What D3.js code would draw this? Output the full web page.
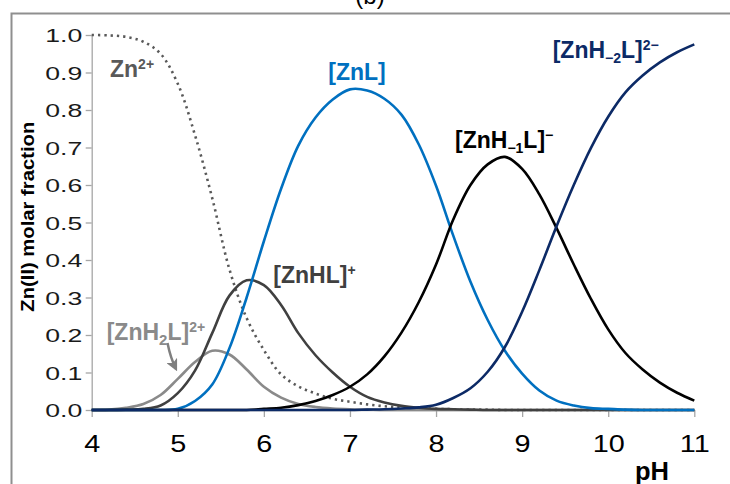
<!DOCTYPE html>
<html>
<head>
<meta charset="utf-8">
<script src="https://cdn.jsdelivr.net/npm/d3@7"></script>
<style>
  html, body { margin: 0; padding: 0; background: #fff; }
  svg { display: block; font-family: "Liberation Sans", Arial, sans-serif; }
</style>
</head>
<body>
<svg id="chart" width="730" height="484"></svg>
<script>
// pH grid of the speciation diagram
const pH = [4.0, 4.2, 4.4, 4.6, 4.8, 5.0, 5.2, 5.4, 5.6, 5.8, 6.0, 6.2, 6.4, 6.6, 6.8, 7.0, 7.2, 7.4,
            7.6, 7.8, 8.0, 8.2, 8.4, 8.6, 8.8, 9.0, 9.2, 9.4, 9.6, 9.8, 10.0, 10.2, 10.4, 10.6, 10.8, 11.0];

// Zn(II) molar fraction of each species
const zn     = [1.000, 0.999, 0.995, 0.982, 0.950, 0.870, 0.733, 0.565, 0.375, 0.245, 0.160, 0.095, 0.063, 0.044, 0.030, 0.022, 0.015, 0.010,
                0.007, 0.005, 0.003, 0.002, 0.001, 0.001, 0, 0, 0, 0, 0, 0, 0, 0, 0, 0, 0, 0];
const znH2L  = [0.000, 0.001, 0.006, 0.016, 0.040, 0.083, 0.128, 0.158, 0.148, 0.108, 0.062, 0.033, 0.016, 0.008, 0.004, 0.002, 0.001, 0,
                0, 0, 0, 0, 0, 0, 0, 0, 0, 0, 0, 0, 0, 0, 0, 0, 0, 0];
const znHL   = [0, 0, 0.001, 0.003, 0.012, 0.045, 0.105, 0.205, 0.305, 0.346, 0.333, 0.280, 0.205, 0.146, 0.100, 0.062, 0.035, 0.020,
                0.011, 0.006, 0.003, 0.002, 0.001, 0, 0, 0, 0, 0, 0, 0, 0, 0, 0, 0, 0, 0];
const znL    = [0, 0, 0, 0, 0, 0.003, 0.024, 0.068, 0.165, 0.300, 0.450, 0.590, 0.705, 0.780, 0.828, 0.855, 0.852, 0.830,
                0.787, 0.708, 0.598, 0.465, 0.342, 0.240, 0.158, 0.097, 0.052, 0.025, 0.012, 0.005, 0.003, 0.001, 0, 0, 0, 0];
const znHm1L = [0, 0, 0, 0, 0, 0, 0, 0, 0, 0, 0.003, 0.006, 0.013, 0.024, 0.040, 0.062, 0.095, 0.143,
                0.207, 0.288, 0.388, 0.508, 0.600, 0.655, 0.675, 0.643, 0.575, 0.485, 0.388, 0.296, 0.215, 0.152, 0.108, 0.073, 0.046, 0.025];
const znHm2L = [0, 0, 0, 0, 0, 0, 0, 0, 0, 0, 0, 0, 0, 0, 0, 0, 0.001, 0.002,
                0.004, 0.007, 0.014, 0.032, 0.058, 0.102, 0.168, 0.262, 0.373, 0.490, 0.600, 0.699, 0.782, 0.847, 0.892, 0.927, 0.954, 0.975];

const xTicks = [4, 5, 6, 7, 8, 9, 10, 11];
const yTicks = [0, 0.1, 0.2, 0.3, 0.4, 0.5, 0.6, 0.7, 0.8, 0.9, 1.0];

const svg = d3.select("#chart");
const x = d3.scaleLinear().domain([4, 11]).range([91.7, 694.3]);
const y = d3.scaleLinear().domain([0, 1]).range([410, 35]);

// panel frame
svg.append("path")
  .attr("d", "M11.5,484V13.5H730")
  .attr("fill", "none").attr("stroke", "#8f8f8f").attr("stroke-width", 2);

// panel letter (cut by the top edge)
svg.append("text").attr("x", 370).attr("y", 4).attr("text-anchor", "middle")
  .attr("font-size", 24).attr("fill", "#000").text("(b)");

// widen tick labels horizontally
function stretch(sel, k) {
  sel.each(function () {
    const w = this.getComputedTextLength();
    d3.select(this).attr("textLength", w * k).attr("lengthAdjust", "spacingAndGlyphs");
  });
}

// y axis
const gy = svg.append("g").attr("transform", `translate(${x(4)},0)`)
  .call(d3.axisLeft(y).tickValues(yTicks).tickFormat(d3.format(".1f")).tickSize(6).tickSizeOuter(0));
gy.attr("font-family", null).attr("font-size", null);
gy.select(".domain").attr("stroke", "#a6a6a6").attr("stroke-width", 1.3);
gy.selectAll(".tick line").attr("stroke", "#a6a6a6").attr("stroke-width", 1.3);
gy.selectAll(".tick text").attr("font-size", 19).attr("fill", "#1a1a1a").attr("x", -9.5).attr("dy", "0.36em");
stretch(gy.selectAll(".tick text"), 1.4);

// x axis
const gx = svg.append("g").attr("transform", `translate(0,${y(0)})`)
  .call(d3.axisBottom(x).tickValues(xTicks).tickFormat(d3.format("d")).tickSize(7).tickSizeOuter(0));
gx.attr("font-family", null).attr("font-size", null);
gx.select(".domain").attr("stroke", "#a6a6a6").attr("stroke-width", 1.3);
gx.selectAll(".tick line").attr("stroke", "#a6a6a6").attr("stroke-width", 1.3);
gx.selectAll(".tick text").attr("font-size", 24).attr("fill", "#000").attr("y", 25).attr("dy", "0.71em");
stretch(gx.selectAll(".tick text"), 1.2);

// axis titles
svg.append("text")
  .attr("transform", "translate(34,216.7) rotate(-90)")
  .attr("text-anchor", "middle").attr("font-weight", "bold").attr("font-size", 17.5)
  .attr("textLength", 190).attr("lengthAdjust", "spacingAndGlyphs")
  .attr("fill", "#000").text("Zn(II) molar fraction");
svg.append("text").attr("x", 635).attr("y", 480).attr("font-weight", "bold")
  .attr("font-size", 25.5).attr("fill", "#000").text("pH");

// species curves
const series = [
  { values: zn,     color: "#595959", dash: "2.3 4" },
  { values: znH2L,  color: "#8a8a8a" },
  { values: znHL,   color: "#404040" },
  { values: znL,    color: "#0070c0" },
  { values: znHm1L, color: "#000000" },
  { values: znHm2L, color: "#0c2a66" }
];
const line = d3.line()
  .x((d, i) => x(pH[i]))
  .y(d => y(d))
  .curve(d3.curveCatmullRom.alpha(0.5));

svg.append("g").selectAll("path").data(series).join("path")
  .attr("d", s => line(s.values))
  .attr("fill", "none")
  .attr("stroke", s => s.color)
  .attr("stroke-width", 2.6)
  .attr("stroke-dasharray", s => s.dash || null)
  .attr("stroke-linejoin", "round");

// species labels with sub/superscripts
function label(x0, y0, color, parts) {
  const t = svg.append("text").attr("x", x0).attr("y", y0)
    .attr("fill", color).attr("font-weight", "bold").attr("font-size", 23);
  parts.forEach(p => t.append("tspan").attr("font-size", p.s || 23).attr("dy", p.dy || 0).text(p.t));
}
label(110, 76.7, "#595959", [{ t: "Zn" }, { t: "2+", s: 14, dy: -8 }]);
label(106.7, 340, "#8a8a8a", [{ t: "[ZnH" }, { t: "2", s: 15, dy: 5 }, { t: "L]", dy: -5 }, { t: "2+", s: 14, dy: -8 }]);
label(273.3, 283.3, "#404040", [{ t: "[ZnHL]" }, { t: "+", s: 14, dy: -8 }]);
label(328.3, 80, "#0070c0", [{ t: "[ZnL]" }]);
label(455, 148.3, "#000000", [{ t: "[ZnH" }, { t: "\u22121", s: 14, dy: 5 }, { t: "L]", dy: -5 }, { t: "\u2212", s: 14, dy: -8 }]);
label(552.7, 58.3, "#0c2a66", [{ t: "[ZnH" }, { t: "\u22122", s: 14, dy: 5 }, { t: "L]", dy: -5 }, { t: "2\u2212", s: 14, dy: -8 }]);

// pointer from the [ZnH2L]2+ label to its curve
svg.append("defs").append("marker")
  .attr("id", "head").attr("viewBox", "0 0 10 10").attr("refX", 8).attr("refY", 5)
  .attr("markerUnits", "userSpaceOnUse").attr("markerWidth", 12).attr("markerHeight", 12)
  .attr("orient", "auto")
  .append("path").attr("d", "M0,0L10,5L0,10L2.5,5Z").attr("fill", "#7f7f7f");
svg.append("path")
  .attr("d", "M167.5,343 Q170.5,358 176,369")
  .attr("fill", "none").attr("stroke", "#7f7f7f").attr("stroke-width", 2.5)
  .attr("marker-end", "url(#head)");
</script>
</body>
</html>
